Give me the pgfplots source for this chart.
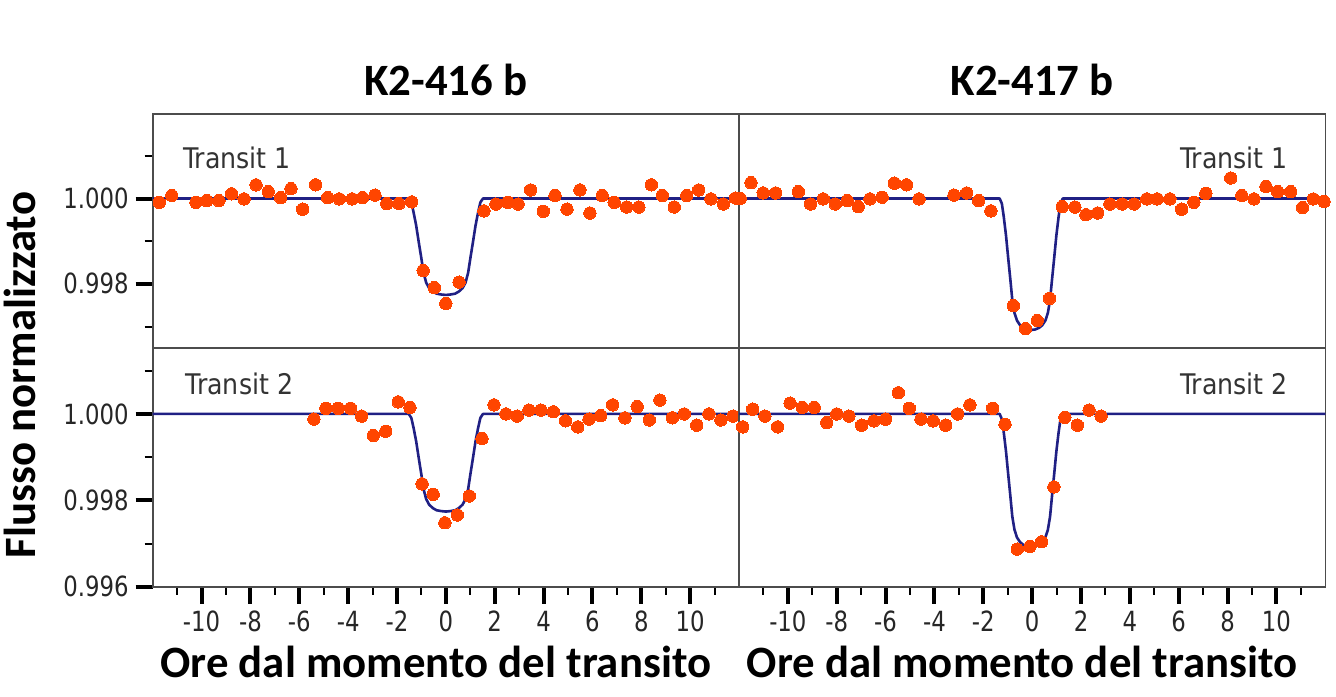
\documentclass[border=0pt]{standalone}
\usepackage{pgfplots}
\pgfplotsset{compat=1.18}
\usepackage{fontspec}
\setmainfont{Carlito}
\newfontfamily\tickfont[FakeStretch=0.82]{DejaVu Sans}
\newfontfamily\annfont[FakeStretch=0.89]{DejaVu Sans}
\definecolor{ptc}{RGB}{255,69,0}
\definecolor{mdl}{RGB}{32,32,132}
\tikzset{ann/.style={font=\annfont\fontsize{14.2}{16}\selectfont, text=black!80, inner sep=0pt}}
\pgfplotsset{
  panel/.style={scale only axis, width=293.15pt, anchor=south west,
    xmin=-12, xmax=12,
    axis line style={black!70, line width=0.8pt},
    tick align=outside, major tick length=8.5pt, minor tick length=4pt,
    major x tick style={line width=2pt, black},
    major y tick style={line width=2pt, black},
    minor x tick style={line width=1pt, black},
    minor y tick style={line width=1pt, black},
    ticklabel style={font=\tickfont\fontsize{13.9}{15}\selectfont, text=black!85},
    xtick pos=bottom, ytick pos=left},
  toprow/.style={height=117.15pt, ymin=0.99649, ymax=1.00198, xtick=\empty},
  botrow/.style={height=119.2pt, ymin=0.996, ymax=1.00152,
    xtick={-10,-8,-6,-4,-2,0,2,4,6,8,10},
    xticklabels={-10,-8,-6,-4,-2,0,2,4,6,8,10},
    minor xtick={-11,-9,-7,-5,-3,-1,1,3,5,7,9,11},
    xlabel={Ore dal momento del transito},
    xlabel style={font=\bfseries\fontsize{22.4}{26}\selectfont, at={(axis description cs:0.5,0)}, anchor=base, yshift=-45.5pt, xshift=-5pt}},
  rightcol/.style={ytick=\empty},
  pts/.style={ptc, only marks, mark=*, mark size=3.1pt, mark options={fill=ptc, draw=ptc, line width=0pt}},
  mod/.style={mdl, line width=1.3pt, no marks, line join=round},
  ttl/.style={title style={font=\bfseries\fontsize{22.4}{26}\selectfont, at={(axis description cs:0.5,1)}, anchor=base, yshift=3.5pt}},
}
\begin{document}
\begin{tikzpicture}
\useasboundingbox (0,0) rectangle (668pt,348pt);
% ---------- top left: K2-416 b transit 1
\begin{axis}[panel, toprow, at={(76.35pt,173.85pt)},
  ytick={0.998,1.000}, yticklabels={0.998,1.000}, minor ytick={0.997,0.999,1.001},
  ttl, title={K2-416 b}]
\addplot[pts] coordinates {
(-11.73,0.99991) (-11.22,1.00007) (-10.23,0.99991) (-9.79,0.99995) (-9.29,0.99995)
(-8.77,1.00011) (-8.26,0.99999) (-7.77,1.00032) (-7.27,1.00016) (-6.76,1.00002)
(-6.34,1.00023) (-5.86,0.99975) (-5.33,1.00032) (-4.84,1.00002) (-4.36,0.99999)
(-3.83,0.99999) (-3.41,1.00002) (-2.90,1.00008) (-2.42,0.99988) (-1.92,0.99988)
(-1.40,0.99992) (-0.93,0.99831) (-0.47,0.99791) (0.00,0.99754) (0.54,0.99804)
(1.56,0.99971) (2.05,0.99987) (2.53,0.99991) (2.96,0.99987) (3.47,1.00020)
(3.99,0.99970) (4.47,1.00007) (4.96,0.99975) (5.49,1.00020) (5.90,0.99966)
(6.40,1.00007) (6.89,0.99991) (7.40,0.99980) (7.90,0.99980) (8.41,1.00032)
(8.86,1.00007) (9.35,0.99980) (9.86,1.00007) (10.35,1.00020) (10.85,0.99999)
(11.36,0.99987) (11.86,1.00001)};
\addplot[mod] coordinates {
(-12,1) (-1.52,1) (-1.414,0.99991) (-1.322,0.99968) (-1.216,0.99937) (-1.110,0.99898)
(-1.003,0.99860) (-0.912,0.99826) (-0.806,0.99803) (-0.684,0.99790) (-0.532,0.99782)
(-0.38,0.99777) (-0.182,0.99775) (0,0.99774) (0.182,0.99775) (0.38,0.99777)
(0.532,0.99782) (0.684,0.99790) (0.806,0.99803) (0.912,0.99826) (1.003,0.99860)
(1.110,0.99898) (1.216,0.99937) (1.322,0.99968) (1.414,0.99991) (1.52,1) (12,1)};
\node[ann, anchor=base west] at (axis description cs:0.0512,0.768) {Transit 1};
\end{axis}
% ---------- top right: K2-417 b transit 1
\begin{axis}[panel, toprow, rightcol, at={(369.5pt,173.85pt)},
  ttl, title={K2-417 b}]
\addplot[pts] coordinates {
(-11.95,1.00000) (-11.51,1.00037) (-11.01,1.00013) (-10.50,1.00013) (-9.57,1.00016)
(-9.07,0.99987) (-8.55,0.99999) (-8.06,0.99987) (-7.57,0.99995) (-7.12,0.99981)
(-6.64,0.99999) (-6.14,1.00003) (-5.64,1.00036) (-5.14,1.00032) (-4.63,0.99999)
(-3.20,1.00008) (-2.68,1.00013) (-2.19,0.99995) (-1.69,0.99971) (-0.77,0.99749)
(-0.27,0.99695) (0.21,0.99714) (0.71,0.99766) (1.23,0.99981) (1.75,0.99980)
(2.20,0.99962) (2.68,0.99966) (3.18,0.99987) (3.69,0.99987) (4.18,0.99987)
(4.69,0.99999) (5.12,0.99999) (5.64,0.99999) (6.12,0.99975) (6.62,0.99991)
(7.11,1.00012) (8.13,1.00048) (8.58,1.00007) (9.08,0.99999) (9.57,1.00028)
(10.05,1.00016) (10.58,1.00016) (11.07,0.99979) (11.51,0.99999) (11.95,0.99993)};
\addplot[mod] coordinates {
(-12,1) (-1.33,1) (-1.24,0.99988) (-1.162,0.99957) (-1.072,0.99914) (-0.982,0.99861)
(-0.891,0.99809) (-0.814,0.99763) (-0.724,0.99732) (-0.621,0.99714) (-0.492,0.99703)
(-0.363,0.99697) (-0.195,0.99693) (-0.04,0.99692) (0.115,0.99693) (0.283,0.99697)
(0.412,0.99703) (0.541,0.99714) (0.644,0.99732) (0.734,0.99763) (0.811,0.99809)
(0.902,0.99861) (0.992,0.99914) (1.082,0.99957) (1.16,0.99988) (1.25,1) (12,1)};
\node[ann, anchor=base east] at (axis description cs:0.937,0.768) {Transit 1};
\end{axis}
% ---------- bottom left: K2-416 b transit 2
\begin{axis}[panel, botrow, at={(76.35pt,54.65pt)},
  ytick={0.996,0.998,1.000}, yticklabels={0.996,0.998,1.000}, minor ytick={0.997,0.999,1.001}]
\addplot[pts] coordinates {
(-5.40,0.99988) (-4.91,1.00013) (-4.40,1.00013) (-3.90,1.00013) (-3.45,0.99995)
(-2.97,0.99950) (-2.46,0.99960) (-1.95,1.00028) (-1.47,1.00015) (-0.97,0.99838)
(-0.52,0.99814) (-0.04,0.99748) (0.47,0.99766) (0.96,0.99810) (1.48,0.99943)
(1.97,1.00021) (2.46,1.00000) (2.92,0.99995) (3.40,1.00009) (3.89,1.00009)
(4.40,1.00005) (4.90,0.99984) (5.40,0.99970) (5.86,0.99988) (6.34,0.99996)
(6.83,1.00021) (7.33,0.99991) (7.83,1.00017) (8.33,0.99986) (8.76,1.00032)
(9.27,0.99991) (9.76,1.00000) (10.27,0.99974) (10.77,1.00000) (11.26,0.99986)
(11.76,0.99995)};
\addplot[mod] coordinates {
(-12,1) (-1.52,1) (-1.414,0.99991) (-1.322,0.99968) (-1.216,0.99937) (-1.110,0.99898)
(-1.003,0.99860) (-0.912,0.99826) (-0.806,0.99803) (-0.684,0.99790) (-0.532,0.99782)
(-0.38,0.99777) (-0.182,0.99775) (0,0.99774) (0.182,0.99775) (0.38,0.99777)
(0.532,0.99782) (0.684,0.99790) (0.806,0.99803) (0.912,0.99826) (1.003,0.99860)
(1.110,0.99898) (1.216,0.99937) (1.322,0.99968) (1.414,0.99991) (1.52,1) (12,1)};
\node[ann, anchor=base west] at (axis description cs:0.055,0.808) {Transit 2};
\end{axis}
% ---------- bottom right: K2-417 b transit 2
\begin{axis}[panel, botrow, rightcol, at={(369.5pt,54.65pt)}]
\addplot[pts] coordinates {
(-11.85,0.99970) (-11.44,1.00011) (-10.94,0.99995) (-10.42,0.99970) (-9.91,1.00025)
(-9.41,1.00015) (-8.92,1.00015) (-8.41,0.99980) (-8.00,1.00000) (-7.50,0.99995)
(-6.98,0.99974) (-6.48,0.99984) (-6.00,0.99988) (-5.48,1.00049) (-5.03,1.00013)
(-4.55,0.99988) (-4.05,0.99984) (-3.54,0.99974) (-3.05,1.00000) (-2.55,1.00021)
(-1.62,1.00013) (-1.11,0.99976) (-0.61,0.99687) (-0.09,0.99693) (0.39,0.99704)
(0.89,0.99831) (1.34,0.99992) (1.85,0.99974) (2.33,1.00009) (2.82,0.99995)};
\addplot[mod] coordinates {
(-12,1) (-1.33,1) (-1.24,0.99988) (-1.162,0.99957) (-1.072,0.99914) (-0.982,0.99861)
(-0.891,0.99809) (-0.814,0.99763) (-0.724,0.99732) (-0.621,0.99714) (-0.492,0.99703)
(-0.363,0.99697) (-0.195,0.99693) (-0.04,0.99692) (0.115,0.99693) (0.283,0.99697)
(0.412,0.99703) (0.541,0.99714) (0.644,0.99732) (0.734,0.99763) (0.811,0.99809)
(0.902,0.99861) (0.992,0.99914) (1.082,0.99957) (1.16,0.99988) (1.25,1) (12,1)};
\node[ann, anchor=base east] at (axis description cs:0.937,0.808) {Transit 2};
\end{axis}
\node[rotate=90, anchor=base, font=\bfseries\fontsize{22.4}{26}\selectfont, inner sep=0pt] at (17.5pt,160.5pt) {Flusso normalizzato};
\end{tikzpicture}
\end{document}
